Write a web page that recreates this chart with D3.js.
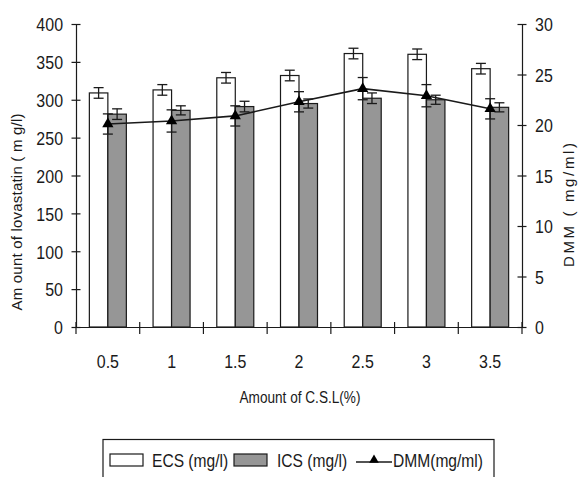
<!DOCTYPE html>
<html>
<head>
<meta charset="utf-8">
<script src="https://cdn.jsdelivr.net/npm/d3@7"></script>
<style>
  body { margin: 0; background: #fff; }
  svg { font-family: "Liberation Sans", Arial, sans-serif; }
</style>
</head>
<body>
<div id="chart"></div>
<script>
const categories = ["0.5", "1", "1.5", "2", "2.5", "3", "3.5"];
const series = ["ECS", "ICS"];
const ecs = [309, 313, 329, 332, 361, 360, 341];
const ecsErr = [7, 7, 7, 7, 7, 7, 7];
const ics = [281, 286, 291, 295, 302, 300, 290];
const icsErr = [7, 6, 7, 6, 7, 6, 6];
const dmm = [20.1, 20.4, 20.9, 22.3, 23.6, 22.9, 21.6];
const dmmErr = [1.0, 1.1, 1.0, 1.0, 1.1, 1.1, 1.0];
const leftTicks = [0, 50, 100, 150, 200, 250, 300, 350, 400];
const rightTicks = [0, 5, 10, 15, 20, 25, 30];

const width = 581, height = 477;
const plotL = 76, plotR = 522, plotT = 24, plotB = 327;
const ink = "#1a1a1a";

const svg = d3.select("#chart").append("svg")
    .attr("width", width)
    .attr("height", height);

const x = d3.scaleBand().domain(categories).range([plotL, plotR]).padding(0);
const bw = x.bandwidth();
const xs = d3.scaleBand().domain(series).range([bw / 2 - 18.5, bw / 2 + 18.5]).padding(0);
const yL = d3.scaleLinear().domain([0, 400]).range([plotB, plotT]);
const yR = d3.scaleLinear().domain([0, 30]).range([plotB, plotT]);

// squeeze text horizontally, the original font is a narrow one
function squeeze(sel, k) {
    sel.each(function () {
        const w = this.getComputedTextLength();
        d3.select(this).attr("textLength", w * k).attr("lengthAdjust", "spacingAndGlyphs");
    });
}

const rows = categories.map((c, i) => ({ c, ecs: ecs[i], ecsErr: ecsErr[i], ics: ics[i], icsErr: icsErr[i], dmm: dmm[i], dmmErr: dmmErr[i] }));

// bars
const g = svg.selectAll("g.cat").data(rows).enter().append("g")
    .attr("class", "cat")
    .attr("transform", d => `translate(${x(d.c)},0)`);

g.append("rect")
    .attr("x", xs("ECS")).attr("width", xs.bandwidth())
    .attr("y", d => yL(d.ecs)).attr("height", d => yL(0) - yL(d.ecs))
    .attr("fill", "#fff").attr("stroke", ink).attr("stroke-width", 1.2);

g.append("rect")
    .attr("x", xs("ICS")).attr("width", xs.bandwidth())
    .attr("y", d => yL(d.ics)).attr("height", d => yL(0) - yL(d.ics))
    .attr("fill", "#969696").attr("stroke", ink).attr("stroke-width", 1.2);

function errBar(sel, cx, lo, hi, cap) {
    sel.append("line").attr("x1", cx).attr("x2", cx).attr("y1", lo).attr("y2", hi);
    sel.append("line").attr("x1", d => cx(d) - cap).attr("x2", d => cx(d) + cap).attr("y1", lo).attr("y2", lo);
    sel.append("line").attr("x1", d => cx(d) - cap).attr("x2", d => cx(d) + cap).attr("y1", hi).attr("y2", hi);
}

const eE = g.append("g").attr("stroke", ink).attr("stroke-width", 1.3);
errBar(eE, () => xs("ECS") + xs.bandwidth() / 2, d => yL(d.ecs - d.ecsErr), d => yL(d.ecs + d.ecsErr), 5);
const eI = g.append("g").attr("stroke", ink).attr("stroke-width", 1.3);
errBar(eI, () => xs("ICS") + xs.bandwidth() / 2, d => yL(d.ics - d.icsErr), d => yL(d.ics + d.icsErr), 5);

// DMM line
const line = d3.line().x(d => x(d.c) + bw / 2).y(d => yR(d.dmm));
svg.append("path").datum(rows)
    .attr("d", line).attr("fill", "none").attr("stroke", ink).attr("stroke-width", 1.6);

const eD = svg.selectAll("g.dmm").data(rows).enter().append("g")
    .attr("class", "dmm").attr("stroke", ink).attr("stroke-width", 1.3);
errBar(eD, d => x(d.c) + bw / 2, d => yR(d.dmm - d.dmmErr), d => yR(d.dmm + d.dmmErr), 5);

svg.selectAll("path.tri").data(rows).enter().append("path")
    .attr("class", "tri")
    .attr("d", d3.symbol(d3.symbolTriangle, 55))
    .attr("transform", d => `translate(${x(d.c) + bw / 2},${yR(d.dmm)})`)
    .attr("fill", "#000");

// axes
const axL = svg.append("g").attr("transform", `translate(${plotL},0)`)
    .call(d3.axisLeft(yL).tickValues(leftTicks).tickSize(0).tickPadding(13));
const axR = svg.append("g").attr("transform", `translate(${plotR},0)`)
    .call(d3.axisRight(yR).tickValues(rightTicks).tickSize(0).tickPadding(13));
const axB = svg.append("g").attr("transform", `translate(0,${plotB})`)
    .call(d3.axisBottom(x).tickSize(0).tickPadding(28));

[axL, axR, axB].forEach(a => {
    a.select(".domain").attr("stroke", ink).attr("stroke-width", 1.2);
    a.selectAll("text").attr("font-size", 19).attr("fill", ink).attr("font-family", "Liberation Sans, Arial, sans-serif");
});
axL.selectAll(".tick").append("line").attr("x1", -4.5).attr("x2", 4.5).attr("stroke", ink).attr("stroke-width", 1.2);
axR.selectAll(".tick").append("line").attr("x1", -4.5).attr("x2", 4.5).attr("stroke", ink).attr("stroke-width", 1.2);
axL.selectAll("text").attr("dy", "0.36em");
axR.selectAll("text").attr("dy", "0.36em");

// x ticks sit on category boundaries
axB.selectAll(".edge").data(categories.concat(["end"])).enter().append("line")
    .attr("class", "edge")
    .attr("x1", (d, i) => plotL + i * bw).attr("x2", (d, i) => plotL + i * bw)
    .attr("y1", -5).attr("y2", 7)
    .attr("stroke", ink).attr("stroke-width", 1.2);

squeeze(svg.selectAll(".tick text"), 0.84);

// axis titles
const xt = svg.append("text").attr("x", 300).attr("y", 403)
    .attr("text-anchor", "middle").attr("font-size", 16).attr("fill", ink)
    .text("Amount of C.S.L(%)");
squeeze(xt, 0.85);

svg.append("text")
    .attr("transform", "translate(22,212) rotate(-90)")
    .attr("text-anchor", "middle").attr("font-size", 15).attr("fill", ink)
    .attr("textLength", 197).attr("lengthAdjust", "spacing")
    .text("Am ount of lovastatin ( m g/l)");

svg.append("text")
    .attr("transform", "translate(574,205) rotate(-90)")
    .attr("text-anchor", "middle").attr("font-size", 15).attr("fill", ink)
    .attr("textLength", 124).attr("lengthAdjust", "spacing")
    .text("DMM ( mg/ml)");

// legend
const leg = svg.append("g");
leg.append("rect").attr("x", 103).attr("y", 439.5).attr("width", 391).attr("height", 50)
    .attr("fill", "#fff").attr("stroke", ink).attr("stroke-width", 1.2);
leg.append("rect").attr("x", 110).attr("y", 454).attr("width", 33).attr("height", 12)
    .attr("fill", "#fff").attr("stroke", ink).attr("stroke-width", 1.2);
leg.append("rect").attr("x", 234).attr("y", 454).attr("width", 33).attr("height", 12)
    .attr("fill", "#969696").attr("stroke", ink).attr("stroke-width", 1.2);
leg.append("line").attr("x1", 356).attr("x2", 392).attr("y1", 462).attr("y2", 462)
    .attr("stroke", ink).attr("stroke-width", 1.6);
leg.append("path").attr("d", d3.symbol(d3.symbolTriangle, 40))
    .attr("transform", "translate(374,460)").attr("fill", "#000");

const legLabels = [["ECS (mg/l)", 152], ["ICS (mg/l)", 277], ["DMM(mg/ml)", 393]];
const lt = leg.selectAll("text.lab").data(legLabels).enter().append("text")
    .attr("class", "lab")
    .attr("x", d => d[1]).attr("y", 467)
    .attr("font-size", 19).attr("fill", ink)
    .text(d => d[0]);
squeeze(lt, 0.82);
</script>
</body>
</html>
